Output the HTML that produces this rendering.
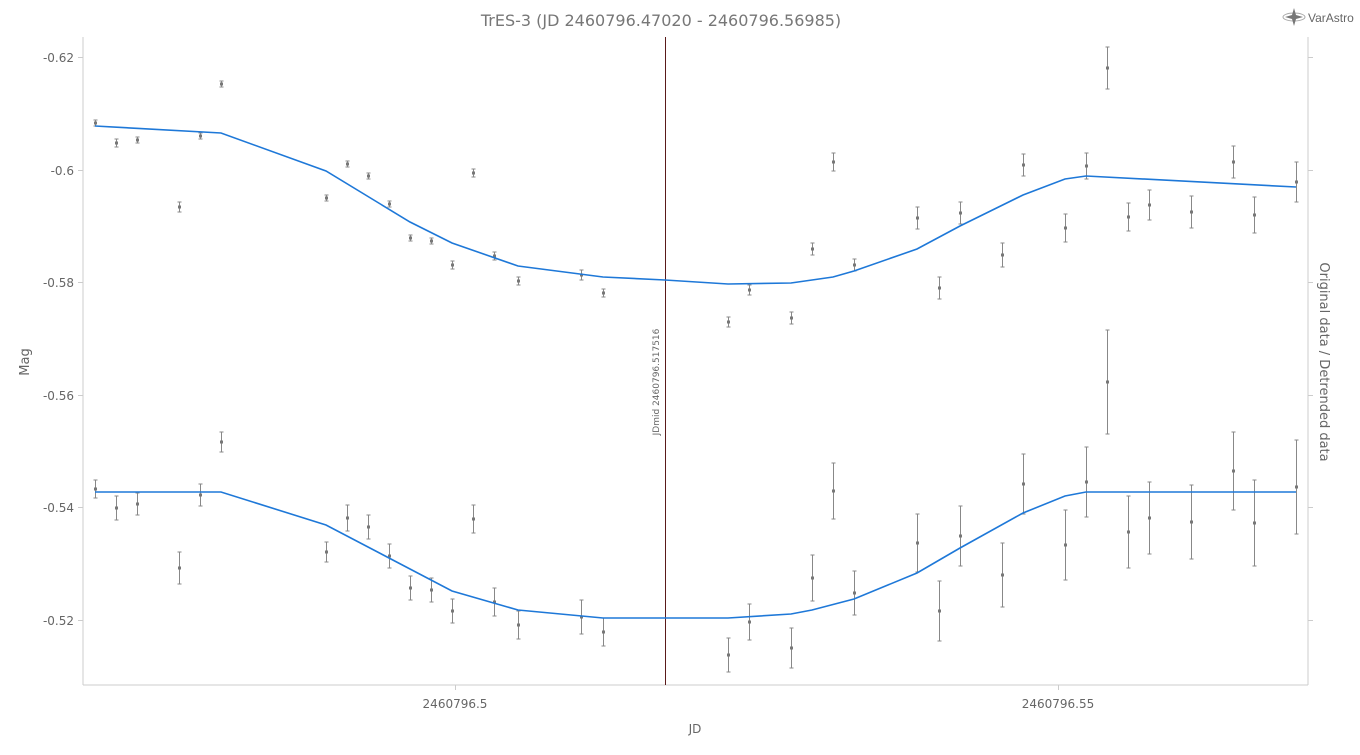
<!DOCTYPE html>
<html><head><meta charset="utf-8"><style>
html,body{margin:0;padding:0;background:#fff;width:1360px;height:755px;overflow:hidden}
svg{display:block;font-family:"DejaVu Sans","Liberation Sans",sans-serif}
</style></head><body>
<svg id="s" width="1360" height="755" xmlns="http://www.w3.org/2000/svg">
<text x="661" y="26" text-anchor="middle" font-size="16" fill="#777">TrES-3 (JD 2460796.47020 - 2460796.56985)</text>
<g transform="translate(1294,17)"><ellipse cx="0" cy="0" rx="11" ry="4" fill="none" stroke="#aaa"/><path d="M0,-9 L2,-2 L9,0 L2,2 L0,9 L-2,2 L-9,0 L-2,-2Z" fill="#777"/></g>
<text x="1308" y="22" font-size="12" fill="#666" font-family="Liberation Sans">VarAstro</text>
<line x1="83" y1="37" x2="83" y2="685" stroke="#ccc"/>
<line x1="1308" y1="37" x2="1308" y2="685" stroke="#ccc"/>
<line x1="83" y1="685" x2="1308" y2="685" stroke="#ccc"/>
<g id="ticks" stroke="#ccc"></g>
<g font-size="12" fill="#666" text-anchor="end">
<text x="74" y="62">-0.62</text><text x="74" y="175">-0.6</text><text x="74" y="287">-0.58</text><text x="74" y="400">-0.56</text><text x="74" y="512">-0.54</text><text x="74" y="625">-0.52</text>
</g>
<g font-size="12" fill="#666" text-anchor="middle">
<text x="455" y="708">2460796.5</text><text x="1058" y="708">2460796.55</text>
<text x="695" y="733">JD</text>
</g>
<text transform="translate(29,362) rotate(-90)" font-size="13" fill="#666" text-anchor="middle">Mag</text>
<text transform="translate(1320,362) rotate(90)" font-size="13" fill="#666" text-anchor="middle">Original data / Detrended data</text>
<line x1="665.5" y1="37" x2="665.5" y2="685" stroke="#5a1a1a" stroke-width="1"/>
<text transform="translate(659,382) rotate(-90)" font-size="9" fill="#666" text-anchor="middle">JDmid 2460796.517516</text>
<g id="pts"></g>
<polyline fill="none" stroke="#1e78d8" stroke-width="1.6" points="95,126 221,133 326,171 410,222 452,243 518,266 603,277 665,280 728,284 791,283 833,277 854,271 917,249 960,226 1023,195 1065,179 1086,176 1296,187"/>
<polyline fill="none" stroke="#1e78d8" stroke-width="1.6" points="95,492 221,492 326,525 389,558 452,591 518,610 603,618 728,618 791,614 812,610 854,599 917,573 960,548 1023,513 1065,496 1086,492 1296,492"/>
</svg>
<script>
var NS="http://www.w3.org/2000/svg",t=document.getElementById("ticks"),p=document.getElementById("pts");
function el(n,a,par){var e=document.createElementNS(NS,n);for(var k in a)e.setAttribute(k,a[k]);par.appendChild(e);}
[57,170,282,395,507,620].forEach(function(y){el("line",{x1:78,y1:y+.5,x2:83,y2:y+.5},t);el("line",{x1:1308,y1:y+.5,x2:1313,y2:y+.5},t);});
[455,1058].forEach(function(x){el("line",{x1:x+.5,y1:685,x2:x+.5,y2:690},t);});
var d=[[95,123,3],[116,143,4],[137,140,3],[179,207,5],[200,136,3],[221,84,3],[326,198,3],[347,164,3],[368,176,3],[389,204,3],[410,238,3],[431,241,3],[452,265,4],[473,173,4],[494,256,4],[518,281,4],[581,275,5],[603,293,4],[728,322,5],[749,290,5],[791,318,6],[812,249,6],[833,162,9],[854,265,6],[917,218,11],[939,288,11],[960,213,11],[1002,255,12],[1023,165,11],[1065,228,14],[1086,166,13],[1107,68,21],[1128,217,14],[1149,205,15],[1191,212,16],[1233,162,16],[1254,215,18],[1296,182,20],
[95,489,9],[116,508,12],[137,504,11],[179,568,16],[200,495,11],[221,442,10],[326,552,10],[347,518,13],[368,527,12],[389,556,12],[410,588,12],[431,590,12],[452,611,12],[473,519,14],[494,602,14],[518,625,14],[581,617,17],[603,632,14],[728,655,17],[749,622,18],[791,648,20],[812,578,23],[833,491,28],[854,593,22],[917,543,29],[939,611,30],[960,536,30],[1002,575,32],[1023,484,30],[1065,545,35],[1086,482,35],[1107,382,52],[1128,532,36],[1149,518,36],[1191,522,37],[1233,471,39],[1254,523,43],[1296,487,47]];
d.forEach(function(a){var x=a[0]+.5,y=a[1],e=a[2];
el("line",{x1:x,y1:y-e,x2:x,y2:y+e,stroke:"#888","stroke-width":1},p);
el("line",{x1:x-2,y1:y-e,x2:x+2,y2:y-e,stroke:"#888"},p);
el("line",{x1:x-2,y1:y+e,x2:x+2,y2:y+e,stroke:"#888"},p);
el("rect",{x:x-1.5,y:y-1.5,width:3,height:3,fill:"#777"},p);});
</script>
</body></html>
